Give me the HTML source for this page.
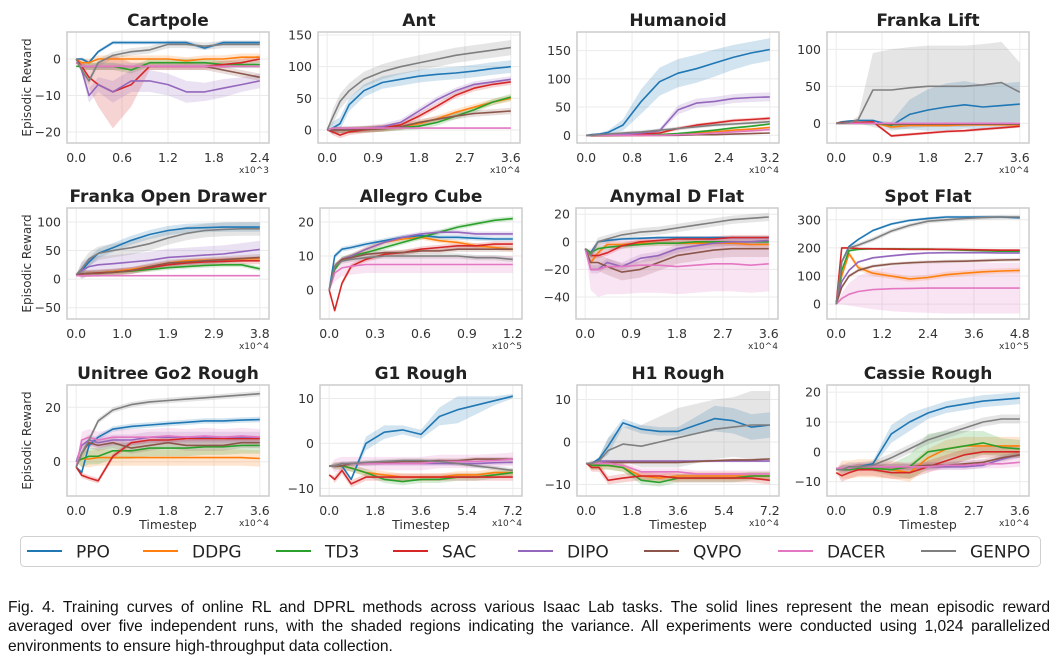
<!DOCTYPE html>
<html><head><meta charset="utf-8">
<style>
html,body{margin:0;padding:0;background:#fff;}
body{width:1061px;height:660px;position:relative;overflow:hidden;}
svg text{font-family:"DejaVu Sans","Liberation Sans",sans-serif;}
#caption{position:absolute;left:8px;top:598px;width:1042px;font-family:"Liberation Sans",sans-serif;font-size:15.6px;line-height:19.3px;color:#111;}
#caption .j{display:block;text-align:justify;text-align-last:justify;white-space:nowrap;}
#caption .l{display:block;text-align:left;white-space:nowrap;}
</style></head>
<body>
<svg id="chart" width="1061" height="660" viewBox="0 0 1061 660" xmlns="http://www.w3.org/2000/svg"></svg>
<div id="caption"><span class="j">Fig. 4. Training curves of online RL and DPRL methods across various Isaac Lab tasks. The solid lines represent the mean episodic reward</span><span class="j">averaged over five independent runs, with the shaded regions indicating the variance. All experiments were conducted using 1,024 parallelized</span><span class="l">environments to ensure high-throughput data collection.</span></div>
<script>
// ---------- data ----------
const methods = ["PPO","DDPG","TD3","SAC","DIPO","QVPO","DACER","GENPO"];
const colors = ["#1f77b4","#ff7f0e","#2ca02c","#d62728","#9467bd","#8c564b","#e377c2","#7f7f7f"];
// sample fractions of each task's timestep range
const sampleFrac = [0,0.03,0.07,0.12,0.2,0.3,0.4,0.5,0.6,0.7,0.8,0.9,1];

const titles = ["Cartpole","Ant","Humanoid","Franka Lift","Franka Open Drawer","Allegro Cube","Anymal D Flat","Spot Flat","Unitree Go2 Rough","G1 Rough","H1 Rough","Cassie Rough"];
const xMax = [2.4,3.6,3.2,3.6,3.8,1.2,3.6,4.8,3.6,7.2,7.2,3.6];
const xTickLabels = [
 ["0.0","0.6","1.2","1.8","2.4"],["0.0","0.9","1.8","2.7","3.6"],["0.0","0.8","1.6","2.4","3.2"],["0.0","0.9","1.8","2.7","3.6"],
 ["0.0","1.0","1.9","2.9","3.8"],["0.0","0.3","0.6","0.9","1.2"],["0.0","0.9","1.8","2.7","3.6"],["0.0","1.2","2.4","3.6","4.8"],
 ["0.0","0.9","1.8","2.7","3.6"],["0.0","1.8","3.6","5.4","7.2"],["0.0","1.8","3.6","5.4","7.2"],["0.0","0.9","1.8","2.7","3.6"]];
const xExp = ["x10^3","x10^4","x10^4","x10^4","x10^4","x10^5","x10^4","x10^5","x10^4","x10^4","x10^4","x10^4"];
const yLim = [[-23,7.4],[-20.5,154.7],[-13.7,183],[-26.6,123.4],[-69.7,124.4],[-8.5,24.1],[-56,24.5],[-52.7,342],[-12.6,28.2],[-11.7,13],[-12.7,13.4],[-14.8,22.4]];
const yTicks = [[-20,-10,0],[0,50,100,150],[0,50,100,150],[0,50,100],[-50,0,50,100],[0,10,20],[-40,-20,0,20],[0,100,200,300],[0,20],[-10,0,10],[-10,0,10],[-10,0,10,20]];

const cartpole = [
 [0,0,-1,2,4.5,4.5,4.5,4.5,4.5,3,4.5,4.5,4.5],
 [0,-1,-1,0,0,0,0,0,-0.5,0,0,0.5,0.5],
 [-2,-2,-2,-2,-2,-3,-1,-1,-1,-1,-1.5,-1.5,-1.5],
 [0,-2,-5,-7,-9,-7,-2,-2,-2,-2,-1.5,-1,0],
 [0,-3,-10,-7,-9,-6,-6,-7,-9,-9,-8,-7,-6],
 [-1,-2,-2,-2,-2,-2,-2,-2,-2,-2,-3,-4,-5],
 [-1,-2,-2,-2,-2,-2,-2,-2,-2,-2,-2,-2,-2],
 [0,-3,-6,-1,1,2,2.5,4,4,3.5,4,4,4]];
const ant = [
 [0,3,10,40,62,75,80,85,88,90,93,97,100],
 [0,0,0,0,1,3,5,10,18,28,36,44,50],
 [0,0,0,0,1,2,4,6,12,22,32,44,52],
 [0,-3,-8,-3,0,3,8,22,38,55,66,72,76],
 [0,0,0,1,2,5,12,30,48,62,72,76,80],
 [0,0,0,0,1,2,5,12,17,22,26,28,30],
 [0,3,3,3,3,3,3,3,3,3,3,3,3],
 [0,20,45,62,80,92,100,106,112,118,122,126,130]];
const humanoid = [
 [0,1,2,5,18,60,95,110,118,128,138,146,152],
 [0,0,0,0,0,0,1,2,4,6,9,11,14],
 [0,0,0,0,0,1,1,3,6,9,13,16,20],
 [0,0,0,0,1,2,4,12,18,22,26,28,30],
 [0,0,1,1,2,4,8,45,57,60,65,67,68],
 [0,0,0,0,0,0,0,0,1,1,2,3,4],
 [0,0,0,0,0,0,0,1,2,4,6,8,10],
 [0,0,1,2,4,6,9,12,15,18,20,22,24]];
const frankaLift = [
 [0,2,3,4,4,-3,12,18,22,25,22,24,26],
 [0,1,1,1,1,-5,-3,-3,-3,-2,-2,-2,-2],
 [0,0,0,0,0,-2,-1,-1,-1,-1,-1,-1,-1],
 [0,1,1,1,2,-17,-15,-13,-11,-10,-8,-6,-4],
 [0,0,0,0,0,0,0,0,0,0,0,0,0],
 [0,0,0,0,0,-1,-1,-1,-1,-1,-1,-1,-1],
 [0,0,0,0,0,0,0,0,0,0,0,0,0],
 [0,0,1,5,45,45,48,50,50,50,52,55,42]];
const frankaDrawer = [
 [8,15,30,45,55,68,78,85,89,90,91,91,91],
 [8,9,10,11,13,17,22,28,32,33,34,35,36],
 [8,9,10,11,12,14,17,20,22,24,25,25,18],
 [8,9,10,11,12,15,20,25,28,30,31,32,32],
 [8,15,22,25,27,30,33,38,40,42,44,48,52],
 [8,9,10,10,12,15,22,28,30,32,34,36,38],
 [6,6,6,6,6,6,6,6,6,6,6,6,6],
 [8,18,35,45,50,55,62,72,80,85,87,88,88]];
const allegro = [
 [0,10,12,12.5,13.5,14.5,15.5,16,15.5,15.5,15.2,15,15],
 [0,7,9,10,12,14,15,15.5,14.5,14,13,12.5,12],
 [0,6,9,10,11,12.5,14,15.5,17,18.5,19.5,20.5,21],
 [0,-6,2,7,9,10.5,11,12,12.5,13,13,13.5,13.5],
 [0,7,9,10,12,14,15.5,16.5,17,17,16.5,16.5,16.5],
 [0,7,9,9.5,10.5,11,11,11.5,11.5,12,12,12,12],
 [0,5,6.5,7,7.5,7.5,7.5,7.5,7.5,7.5,7.5,7.5,7.5],
 [0,7,8.5,9,9.5,10,10,10,10,10,9.5,9.5,9]];
const anymal = [
 [-5,-8,0,1,2,2.5,3,3,3,3,3,3,3],
 [-5,-15,-8,-2,-2,-1,-1,-1,-1,-1,-1,-2,-2],
 [-5,-8,-5,-4,-3,-2,-1,-1,0,0,0,0,0],
 [-5,-10,-10,-8,-3,0,1,2,2,2,3,3,3],
 [-5,-20,-20,-15,-18,-12,-10,-5,-3,-1,0,0,1],
 [-5,-15,-15,-18,-22,-20,-15,-10,-8,-6,-5,-5,-5],
 [-5,-20,-20,-18,-18,-17,-17,-18,-17,-16,-16,-17,-16],
 [-5,-10,0,2,5,7,8,10,12,14,16,17,18]];
const spot = [
 [0,150,205,230,262,285,298,305,310,310,310,310,307],
 [0,100,180,130,110,100,90,95,105,110,115,118,120],
 [0,120,190,195,197,197,196,196,194,192,190,188,188],
 [0,200,200,198,197,196,195,195,195,194,193,192,192],
 [0,80,120,150,165,172,178,182,183,183,183,182,182],
 [0,60,100,120,135,143,147,150,152,153,155,157,158],
 [0,20,35,45,52,55,56,57,57,57,57,57,57],
 [0,150,200,210,230,260,280,295,300,305,308,310,310]];
const go2 = [
 [-2,-4,6,9,12,13,13.5,14,14.5,15,15,15.3,15.5],
 [0,1,1,1.5,1.5,1.5,1.5,1.5,1.5,1.5,1.5,1.5,1.2],
 [0,1,2,2,4,4,5,5,5,5.5,5.5,6,6],
 [-2,-5,-6,-7,2,7,8,8,8.5,8.5,8.5,8.5,8.5],
 [0,6,8,7,8,8,9,9,9,9,9,9,9],
 [-2,3,7,6,7,5,6,7,6,6,6,7,7],
 [-2,8,9,8,9,9,9,9.5,9,9.5,9,9.5,9],
 [-2,3,8,15,19,21,22,22.5,23,23.5,24,24.5,25]];
const g1 = [
 [-5,-5,-5,-8,0,2.5,3,2,6,7.5,8.5,9.5,10.5],
 [-5,-5,-5,-5.5,-6.5,-7,-7.5,-7.5,-7.5,-7,-7,-6.5,-6.5],
 [-5,-5,-5,-5.5,-6.5,-8,-8.5,-8,-8,-7.5,-7.5,-7,-6.5],
 [-7,-8,-6,-9,-7.5,-7.5,-7.5,-7.5,-7.5,-7.5,-7.5,-7.5,-7.5],
 [-5,-5,-4.5,-4.5,-4.5,-4.5,-4.5,-4.5,-4.5,-4.5,-4.5,-4.3,-4.2],
 [-5,-5,-5,-4.5,-4.5,-4.2,-4,-4,-3.8,-3.8,-3.5,-3.5,-3.5],
 [-5,-5,-4.5,-4.5,-4.5,-4.5,-4.5,-4.5,-4,-4,-4,-3.8,-3.5],
 [-5,-5,-4.5,-4.5,-4.2,-4,-3.8,-3.8,-4,-4.5,-5,-5.5,-6]];
const h1 = [
 [-5,-5,-4,-1,4.5,3,2.5,2.5,4,5.5,5,3.5,4],
 [-5,-5.5,-5.5,-5.5,-6,-8,-8.5,-8,-8,-8,-8,-8,-8],
 [-5,-5.5,-5.5,-5.5,-6,-9,-9.5,-8.5,-8.5,-8.5,-8.5,-8,-8],
 [-5,-6,-6,-9,-8.5,-8,-8,-8.5,-8.5,-8.5,-8.5,-8.5,-9],
 [-5,-5,-4.5,-4.5,-4.5,-4.5,-4.5,-4.5,-4.5,-4.5,-4.5,-4.5,-4.5],
 [-5,-5,-5,-4.8,-4.8,-4.8,-4.8,-4.8,-4.6,-4.4,-4.2,-4.2,-4],
 [-5,-5,-5,-5,-5.5,-7,-7,-7,-7.5,-7.5,-7.5,-7.5,-7.5],
 [-5,-5,-4.5,-2,-0.5,-1,0,1,2,3,3.5,4,4]];
const cassie = [
 [-6,-6,-5.5,-5,-4,6,10,13,15,16,17,17.5,18],
 [-6,-6,-6,-5.5,-5.5,-6,-7,-2,1,2,2,2,2],
 [-6,-6,-6,-5.5,-5.5,-6,-5,0,1,2,3,1.5,1],
 [-7,-8,-7,-6,-6,-7,-7,-5,-3,-1,0,0,0],
 [-5.5,-5.5,-5.5,-5,-5,-5,-5,-5,-5,-5,-4.5,-2.5,-1],
 [-5.5,-5.5,-5.5,-5,-5,-5,-5,-4.5,-4.5,-4,-3.5,-2,-1],
 [-5.5,-5.5,-5.5,-5,-5,-5,-5,-5,-4.5,-4.5,-4,-4,-3.5],
 [-6,-6,-5,-5,-4.5,-2,1,4,6,8,10,11,11]];
const panelData = [cartpole,ant,humanoid,frankaLift,frankaDrawer,allegro,anymal,spot,go2,g1,h1,cassie];

// shaded half-widths (scalar or per-sample), per panel per method
const cartpoleBand = [0.5,1,1,[0,1,3,6,10,6,1,1,1,1,1,1,1],[0,1,2,2,3,3,3,3,3,2.5,2.5,2,2],1,0.5,1];
const antBand = [10,5,5,5,5,5,1,12];
const humanoidBand = [[0,1,2,4,10,22,25,25,25,24,22,20,20],2,2,3,[0,0,0,0,1,2,4,8,8,8,8,8,8],1,3,3];
const frankaLiftBand = [[0,0,0,0,0,5,20,28,32,32,30,30,30],2,1,2,0.5,1,0.5,[0,0,0,5,50,55,55,55,55,55,55,55,40]];
const frankaDrawerBand = [8,4,4,6,15,6,1,12];
const allegroBand = [0.7,0.7,0.7,0.8,0.7,0.8,2.5,0.8];
const anymalBand = [1,2,2,2,3,6,[0,15,20,20,20,20,20,20,20,20,20,20,20],3];
const spotBand = [5,10,4,4,4,6,[0,20,40,55,70,80,85,88,90,90,90,90,90],8];
const go2Band = [1,3,3,1,2,2,3,1];
const g1Band = [[0,0,0,0,1.5,1.5,1,1,2,3,2,1,0.5],0.8,0.8,0.8,0.5,0.5,1.5,0.5];
const h1Band = [[0,0,0.5,2,1,1,1,1,2,3,3,3,3],1,1,1,0.3,0.3,0.8,[0,0,1,3,4,5,6,7,7,7,7,8,8]];
const cassieBand = [[0,0,0,0,1,3,3,2,2,2,2,2,2],3,[0,0,0,0,1,2,4,6,6,5,4,3,3],2,1,1,1.5,1.5];
const panelBands = [cartpoleBand,antBand,humanoidBand,frankaLiftBand,frankaDrawerBand,allegroBand,anymalBand,spotBand,go2Band,g1Band,h1Band,cassieBand];

// ---------- layout ----------
const boxLeft = [67,318,577,827,67,320,576,827,67,320,577,827];
const boxTop = [32,32,32,32,208,208,208,208,385,385,385,385];
const boxW = 202, boxH = 111;

const NS = "http://www.w3.org/2000/svg";
const svg = document.getElementById("chart");
function mk(tag, attrs, parent){
  const e = document.createElementNS(NS, tag);
  for (const k in attrs) e.setAttribute(k, attrs[k]);
  (parent||svg).appendChild(e);
  return e;
}
function slug(s){return s.toLowerCase().replace(/[^a-z0-9]+/g,"-").replace(/-$/,"");}

for (let p = 0; p < 12; p++){
  const L = boxLeft[p], T = boxTop[p], R = L + boxW, B = T + boxH;
  const xm = xMax[p], y0 = yLim[p][0], y1 = yLim[p][1];
  const xs = v => L + (v + 0.05*xm) / (1.1*xm) * boxW;
  const ys = v => B - (v - y0) / (y1 - y0) * boxH;
  const g = mk("g", {});
  
  
  xTickLabels[p].forEach((lab, i) => {
    const xv = xm * i / 4, X = xs(xv);
    const gl = mk("line", {x1:X, x2:X, y1:T, y2:B, stroke:"#ebebeb", "stroke-width":1}, g);
    
    
    const t = mk("text", {x:X, y:B+19, "text-anchor":"middle", "font-size":12.5, fill:"#333"}, g);
    t.textContent = lab;
    
    
  });
  yTicks[p].forEach(v => {
    const Y = ys(v);
    const gl = mk("line", {x1:L, x2:R, y1:Y, y2:Y, stroke:"#ebebeb", "stroke-width":1}, g);
    
    
    const t = mk("text", {x:L-6, y:Y+4.5, "text-anchor":"end", "font-size":12.5, fill:"#333"}, g);
    t.textContent = v < 0 ? "\u2212" + Math.abs(v) : String(v);
    
    
  });
  const cp = mk("clipPath", {id:"clip"+p}, g);
  mk("rect", {x:L, y:T, width:boxW, height:boxH}, cp);
  const plot = mk("g", {"clip-path":"url(#clip"+p+")"}, g);
  const data = panelData[p], bands = panelBands[p];
  data.forEach((ser, m) => {
    const b = bands[m];
    const hw = i => Array.isArray(b) ? b[i] : (i === 0 ? 0 : b);
    let up = [], lo = [];
    ser.forEach((v, i) => {
      const X = xs(sampleFrac[i] * xm);
      up.push(X.toFixed(1) + "," + ys(v + hw(i)).toFixed(1));
      lo.unshift(X.toFixed(1) + "," + ys(v - hw(i)).toFixed(1));
    });
    const poly = mk("polygon", {points: up.concat(lo).join(" "), fill: colors[m], "fill-opacity": 0.2, stroke:"none"}, plot);
    
    
  });
  data.forEach((ser, m) => {
    const pts = ser.map((v, i) => xs(sampleFrac[i] * xm).toFixed(1) + "," + ys(v).toFixed(1)).join(" ");
    const pl = mk("polyline", {points: pts, fill:"none", stroke: colors[m], "stroke-width": 1.6, "stroke-linejoin":"round"}, plot);
    
    
  });
  const fr = mk("rect", {x:L, y:T, width:boxW, height:boxH, fill:"none", stroke:"#cccccc", "stroke-width":1.5}, g);
  
  
  const tt = mk("text", {x:L+boxW/2, y:T-6, "text-anchor":"middle", "font-size":17, "font-weight":"bold", fill:"#222"}, g);
  tt.textContent = titles[p];
  
  
  const ex = mk("text", {x:R, y:B+30, "text-anchor":"end", "font-size":9, fill:"#333"}, g);
  ex.textContent = xExp[p];
  
  
  if (p % 4 === 0){
    const yl = mk("text", {x:0, y:0, transform:"translate(" + 31 + "," + (T+boxH/2) + ") rotate(-90)", "text-anchor":"middle", "font-size":12, fill:"#333"}, g);
    yl.textContent = "Episodic Reward";
    
    
  }
  if (p >= 8){
    const xl = mk("text", {x:L+boxW/2, y:B+33, "text-anchor":"middle", "font-size":12.5, fill:"#333"}, g);
    xl.textContent = "Timestep";
    
    
  }
}

// legend
const legendTextX = [76,192,325,442,567,693,827,970];
const lg = mk("g", {});


mk("rect", {x:20.5, y:536.5, width:1020, height:30, rx:4, fill:"#fff", stroke:"#d0d0d0", "stroke-width":1}, lg);
methods.forEach((m, i) => {
  const e = mk("g", {}, lg);
  
  
  const tx = legendTextX[i];
  mk("line", {x1:tx-49, x2:tx-14, y1:551, y2:551, stroke:colors[i], "stroke-width":2}, e);
  const t = mk("text", {x:tx, y:557.5, "font-size":17, fill:"#222"}, e);
  t.textContent = m;
});
</script>
</body></html>
